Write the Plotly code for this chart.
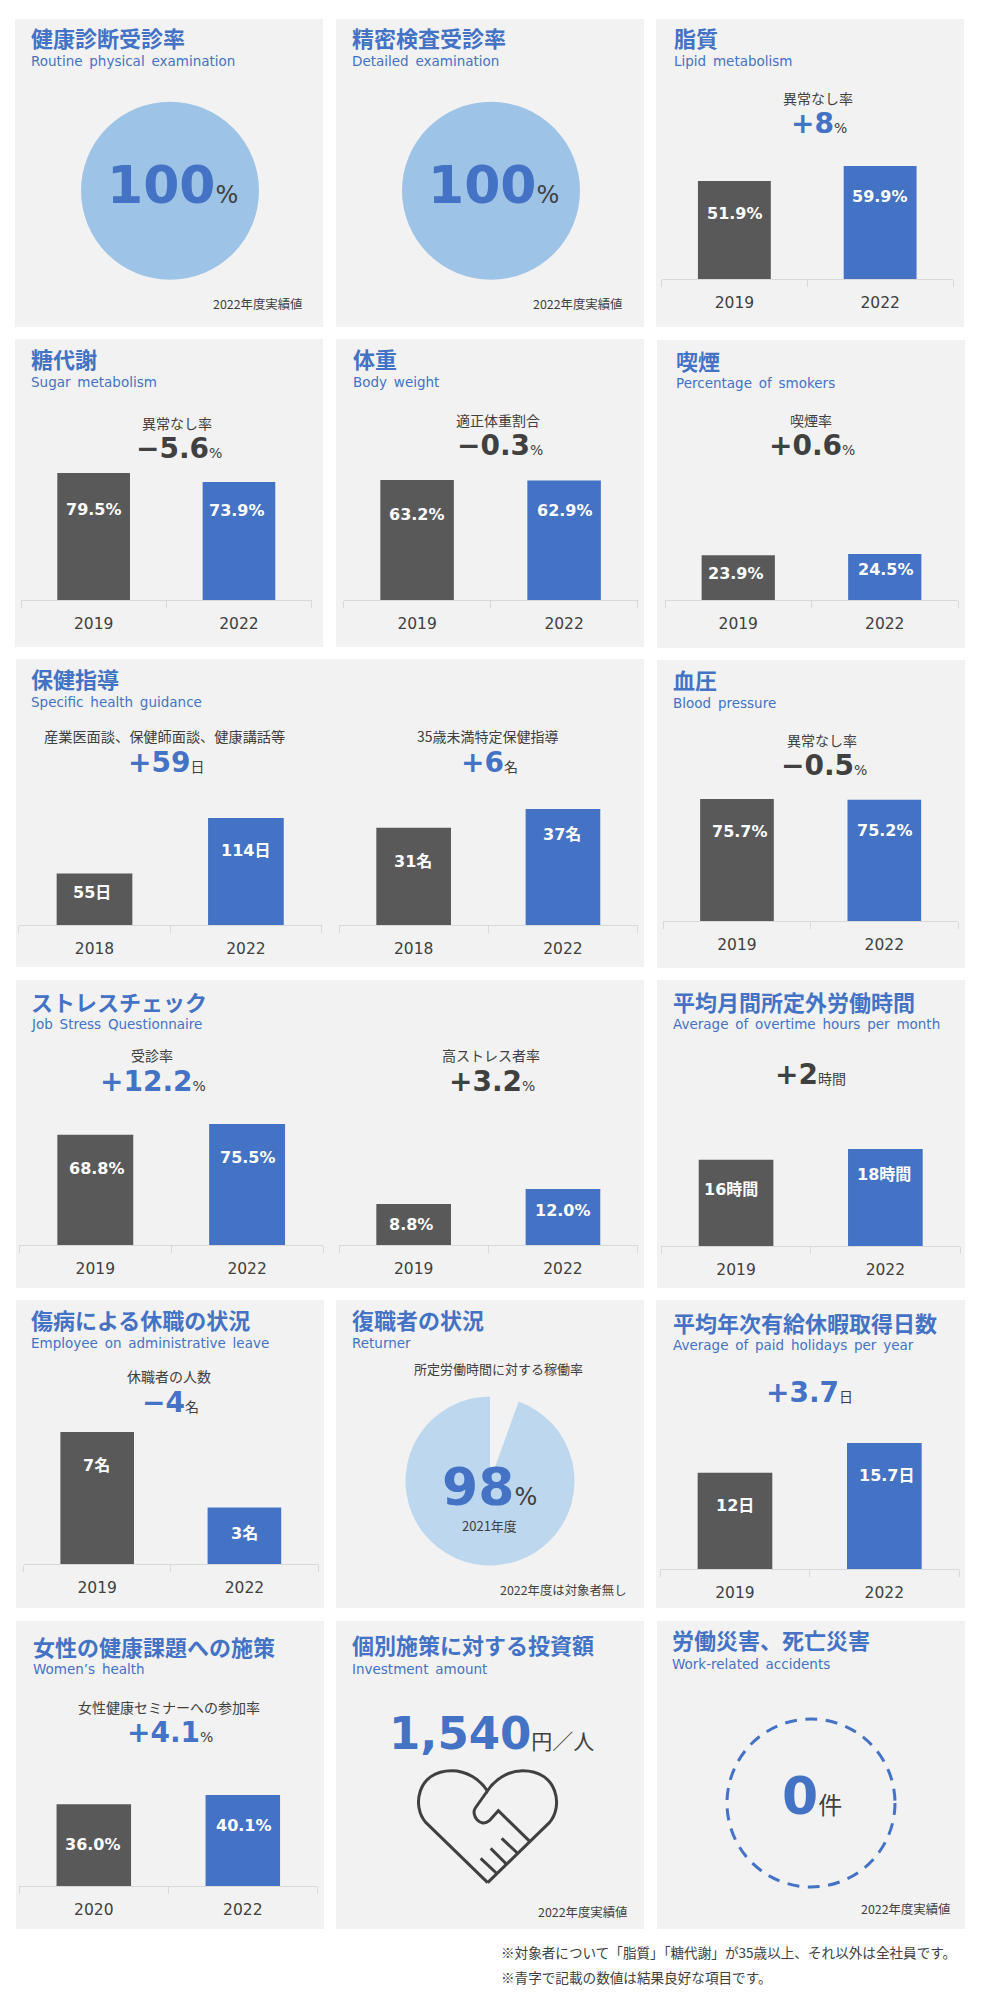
import plotly.graph_objects as go

W, H = 983, 2003
BLUE = "#4472C4"; GREY = "#595959"; DARK = "#404040"; PANEL = "#F2F2F2"; AXIS = "#D9D9D9"
LAT = "DejaVu Sans, Noto Sans CJK JP"
CJK = "Noto Sans CJK JP"

panel_rects = [
    (15,19,323,327),(336,19,644,327),(656,19,964,327),
    (15,339,323,647),(336,339,644,647),(657,340,965,648),
    (16,659,644,967),(657,660,965,968),
    (16,980,644,1288),(657,980,965,1288),
    (16,1300,324,1608),(336,1300,644,1608),(656,1300,965,1608),
    (16,1621,324,1929),(336,1621,644,1929),(657,1621,965,1929),
]
titles = ["健康診断受診率","精密検査受診率","脂質","糖代謝","体重","喫煙","保健指導","血圧","ストレスチェック",
          "平均月間所定外労働時間","傷病による休職の状況","復職者の状況","平均年次有給休暇取得日数",
          "女性の健康課題への施策","個別施策に対する投資額","労働災害、死亡災害"]
subtitles = ["Routine physical examination","Detailed examination","Lipid metabolism","Sugar metabolism","Body weight",
             "Percentage of smokers","Specific health guidance","Blood pressure","Job Stress Questionnaire",
             "Average of overtime hours per month","Employee on administrative leave","Returner",
             "Average of paid holidays per year","Women’s health","Investment amount","Work-related accidents"]
title_x = [31,352,674,31,353,676,31,673,31,673,31,352,673,33,352,672]
title_y = [37,37,37,358,358,360,678,679,1001,1001,1319,1319,1322,1646,1644,1639]
sub_y   = [61,61,61,382,382,383,702,703,1024,1024,1343,1343,1345,1669,1669,1664]

# bar charts
chart_cats = [["2019","2022"],["2019","2022"],["2019","2022"],["2019","2022"],
              ["2018","2022"],["2018","2022"],["2019","2022"],["2019","2022"],["2019","2022"],
              ["2019","2022"],["2019","2022"],["2019","2022"],["2020","2022"]]
chart_vals = [[51.9,59.9],[79.5,73.9],[63.2,62.9],[23.9,24.5],
              [55,114],[31,37],[75.7,75.2],[68.8,75.5],[8.8,12.0],
              [16,18],[7,3],[12,15.7],[36.0,40.1]]
chart_unit = ["%","%","%","%","日","名","%","%","%","時間","名","日","%"]
chart_fmt  = [".1f",".1f",".1f",".1f",".0f",".0f",".1f",".1f",".1f",".0f",".0f",None,".1f"]
# plot rectangles: left, right, top of tallest bar, baseline
chart_x0 = [661.5,21,343.6,665,18.8,339,663.3,19.4,339,661.4,23.6,660.3,19.3]
chart_x1 = [953,311.6,637.6,958,321.6,637.6,958,323,637.6,960,318,959,317.3]
chart_top = [166,473,480,554,818,809,799,1124,1189,1149,1432,1443,1795]
chart_base = [279,600,600,600,925,925,921.3,1245,1245,1246,1564,1569.3,1886]
label_y = [[214,197],[509,510],[514,510],[573,569],[892,850],[861,834],[831,830],
           [1168,1157],[1224,1210],[1189,1174],[1465,1533],[1505,1475],[1844,1825]]
label_dx = [[1,0],[0,-2],[0,1],[-2,1],[-3,0],[-1,-1],[3,1],[2,1],[-3,0],[-5,-1],[-1,0],[0,2],[-1,1]]

# captions above the charts
cap_text = ["異常なし率","異常なし率","適正体重割合","喫煙率","産業医面談、保健師面談、健康講話等","35歳未満特定保健指導",
            "異常なし率","受診率","高ストレス者率","休職者の人数","所定労働時間に対する稼働率","女性健康セミナーへの参加率"]
cap_x = [817.6,176.8,497.8,811,164,488,822,151.7,491,168.8,498,169]
cap_y = [98,423,420,420,736,736,740,1055,1055,1376,1368,1707]
cap_size = [14,14,14,14,14.2,14,14,14,14,14,13,14]

delta_text = ["+8","−5.6","−0.3","+0.6","+59","+6","−0.5","+12.2","+3.2","+2","−4","+3.7","+4.1"]
delta_unit = ["%","%","%","%","日","名","%","%","%","時間","名","日","%"]
delta_col  = [BLUE,DARK,DARK,DARK,BLUE,BLUE,DARK,BLUE,DARK,DARK,BLUE,BLUE,BLUE]
delta_x = [819,178.7,499.7,812,166,489,824,153,492,810.7,170.5,809,170]
delta_y = [124,448,446,446,762,762,766,1081,1081,1074,1402,1392,1732]

# pies
full_pie_val = [100]
return_pie_val = [5.5, 94.5]

notes = ["2022年度実績値","2022年度実績値","2022年度は対象者無し","2022年度実績値","2022年度実績値"]
note_x = [303.5,623.5,628.5,628.5,951.5]
note_y = [304,304,1590,1912,1909]
foot = ["※対象者について「脂質」「糖代謝」が35歳以上、それ以外は全社員です。","※青字で記載の数値は結果良好な項目です。"]
foot_y = [1952,1977]

def px(x): return x / W
def py(y): return 1 - y / H

fig = go.Figure()
shapes, anns = [], []

def text(t, x, y, size, color=DARK, family=CJK, bold=False, anchor="center", yshift=0):
    anns.append(dict(text=t, x=px(x), y=py(y), xref="paper", yref="paper", xanchor=anchor, yanchor="middle",
                     showarrow=False, align=anchor, yshift=yshift,
                     font=dict(size=size, color=color, family=family, weight=700 if bold else 400)))

def rich(big, unit, x, y, big_size, unit_size, color):
    t = f"<span style='font-size:{big_size}px;color:{color};font-weight:700'>{big}</span>" \
        f"<span style='font-size:{unit_size}px;color:{DARK};font-weight:400'>{unit}</span>"
    text(t, x, y, big_size, color=color, family=LAT)

for (a, b, c, d) in panel_rects:
    shapes.append(dict(type="rect", xref="paper", yref="paper", x0=px(a), x1=px(c), y0=py(d), y1=py(b),
                       fillcolor=PANEL, line=dict(width=0), layer="below"))

for t, s, x, y1, y2 in zip(titles, subtitles, title_x, title_y, sub_y):
    text(t, x - 2, y1, 22, BLUE, CJK, True, "left")
    text(f"<span style='word-spacing:2.5px'>{s}</span>", x - 2, y2, 13.5, BLUE, LAT, False, "left")

layout_axes = {}
for i, (cats, vals, unit, fmt) in enumerate(zip(chart_cats, chart_vals, chart_unit, chart_fmt)):
    n = "" if i == 0 else str(i + 1)
    fig.add_trace(go.Bar(x=cats, y=vals, xaxis=f"x{n}", yaxis=f"y{n}", marker=dict(color=[GREY, BLUE], line=dict(width=0)),
                         width=0.5, showlegend=False, hoverinfo="skip"))
    top, base = chart_top[i], chart_base[i]
    vmax = max(vals)
    layout_axes[f"xaxis{n}"] = dict(domain=[px(chart_x0[i]), px(chart_x1[i])], anchor=f"y{n}", type="category",
                                    categoryorder="array", categoryarray=cats, range=[-0.5, 1.5],
                                    showline=True, linecolor=AXIS, linewidth=1, ticks="outside", ticklen=7, tickcolor=AXIS,
                                    tickwidth=1, tickson="boundaries", showgrid=False, zeroline=False,
                                    ticklabelstandoff=9, tickfont=dict(size=15.5, color=DARK, family=LAT), fixedrange=True)
    layout_axes[f"yaxis{n}"] = dict(domain=[py(base), py(top)], anchor=f"x{n}", range=[0, vmax], visible=False, fixedrange=True)
    for k, v in enumerate(vals):
        lab = (format(v, fmt) if fmt else str(v)) + unit
        anns.append(dict(text=lab, xref=f"x{n}", yref=f"y{n}", x=k, y=vmax * (base - label_y[i][k]) / (base - top),
                         xshift=label_dx[i][k], showarrow=False, xanchor="center", yanchor="middle",
                         font=dict(size=16, color="white", family=LAT, weight=700)))

for t, x, y, s in zip(cap_text, cap_x, cap_y, cap_size):
    text(t, x, y, s)
for t, u, c, x, y in zip(delta_text, delta_unit, delta_col, delta_x, delta_y):
    rich(t, u, x, y, 28, 14, c)

# full circles
for cx in (170, 491):
    fig.add_trace(go.Pie(values=full_pie_val, labels=["受診率"], marker=dict(colors=["#9DC3E6"], line=dict(width=0)),
                         textinfo="none", hoverinfo="skip", showlegend=False, sort=False,
                         domain=dict(x=[px(cx - 89), px(cx + 89)], y=[py(190.7 + 89), py(190.7 - 89)])))
    rich("100", "%", cx + 2.4, 185, 52, 24, BLUE)

fig.add_trace(go.Pie(values=return_pie_val, labels=["その他","稼働率"], marker=dict(colors=["rgba(0,0,0,0)","#BDD7EE"], line=dict(width=0)),
                     textinfo="none", hoverinfo="skip", showlegend=False, sort=False, direction="clockwise", rotation=0,
                     domain=dict(x=[px(490 - 84.5), px(490 + 84.5)], y=[py(1481 + 84.5), py(1481 - 84.5)])))
rich("98", "%", 489.7, 1487, 52, 24, BLUE)
text("2021年度", 489.5, 1525, 13)

rich("1,540", "円／人", 492, 1733, 45, 21, BLUE)

# heart icon (outline)
def hp(x, y): return f"{px(400 + x / 3):.5f} {py(1730 + y / 3):.5f}"
heart = ("M" + hp(263, 458) + " L" + hp(78, 278) +
         " C" + hp(35, 232) + " " + hp(50, 122) + " " + hp(155, 122) +
         " C" + hp(200, 122) + " " + hp(240, 148) + " " + hp(262, 183) +
         " C" + hp(285, 148) + " " + hp(325, 122) + " " + hp(368, 122) +
         " C" + hp(475, 122) + " " + hp(490, 232) + " " + hp(448, 278) +
         " L" + hp(263, 458))
hand = ("M" + hp(262, 183) + " L" + hp(226, 234) +
        " C" + hp(212, 255) + " " + hp(240, 295) + " " + hp(268, 272) +
        " L" + hp(295, 242) + " L" + hp(390, 335))
fingers = "".join("M" + hp(a, b) + " L" + hp(c, d) + " " for a, b, c, d in
                  [(305, 325, 355, 372), (272, 355, 322, 405), (242, 385, 292, 432)])
for p in (heart, hand, fingers):
    shapes.append(dict(type="path", path=p, xref="paper", yref="paper", line=dict(color=DARK, width=3), fillcolor="rgba(0,0,0,0)", layer="above"))

# dashed ring
shapes.append(dict(type="circle", xref="paper", yref="paper", x0=px(811 - 84), x1=px(811 + 84), y0=py(1803 + 84), y1=py(1803 - 84),
                   line=dict(color=BLUE, width=3, dash="12px,8.5px"), layer="above"))
rich("0", "件", 811.7, 1796, 52, 24, BLUE)

for t, x, y in zip(notes, note_x, note_y):
    text(t, x, y, 12.4, anchor="right")
for t, y in zip(foot, foot_y):
    text(t, 499, y, 13.6, anchor="left")

fig.update_layout(width=W, height=H, margin=dict(l=0, r=0, t=0, b=0), autosize=False,
                  paper_bgcolor="white", plot_bgcolor="rgba(0,0,0,0)", bargap=0.5,
                  shapes=shapes, annotations=anns, **layout_axes)
fig.write_html("out.html", post_script="document.body.style.margin='0';document.documentElement.style.overflow='hidden';",
               config={"displayModeBar": False})
